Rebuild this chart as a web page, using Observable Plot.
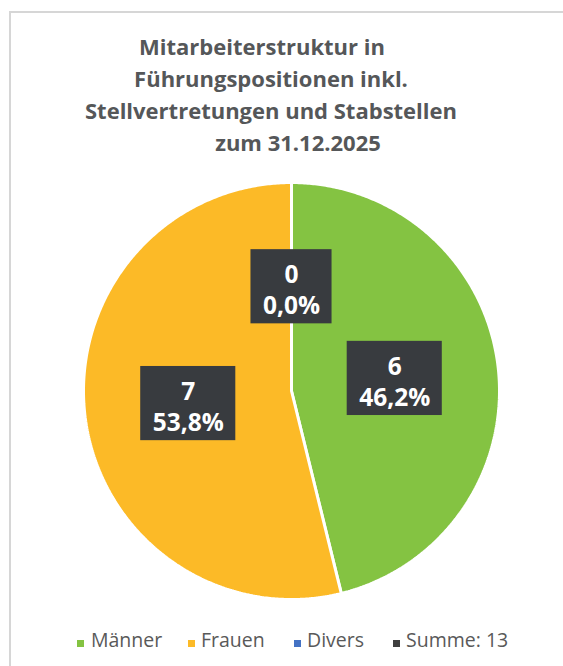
<!DOCTYPE html>
<html>
<head>
<meta charset="utf-8">
<script src="https://cdn.jsdelivr.net/npm/d3@7"></script>
<script src="https://cdn.jsdelivr.net/npm/@observablehq/plot@0.6"></script>
<style>
  html, body { margin: 0; padding: 0; background: #fff; }
  body { width: 563px; height: 666px; position: relative; overflow: hidden; font-family: "Open Sans", sans-serif; }
  #frame { position: absolute; left: 9px; top: 11px; width: 700px; height: 800px; border-top: 2px solid #d6d6d6; border-left: 2px solid #d6d6d6; }
  .tl { position: absolute; white-space: nowrap; font-weight: 700; font-size: 22px; color: #555759; transform: translateX(-50%); line-height: 1; }
  #chart { position: absolute; left: 0; top: 160px; }
  .lg { position: absolute; top: 630px; white-space: nowrap; font-size: 19.5px; color: #595959; line-height: 1; }
  .sw { position: absolute; width: 7px; height: 7px; top: 640px; }
</style>
</head>
<body>
<div id="frame"></div>
<div id="title"></div>
<div id="chart"></div>
<div id="legend"></div>
<script>
const titleLines = ["Mitarbeiterstruktur in", "Führungspositionen inkl.", "Stellvertretungen und Stabstellen", "zum 31.12.2025"];
const titleCenters = [262, 271, 271, 298];
const categories = ["Männer", "Frauen", "Divers"];
const values = [6, 7, 0];
const colors = ["#84C342", "#FCBA27", "#4472C4"];
const legendLabels = ["Männer", "Frauen", "Divers", "Summe: 13"];
const legendColors = ["#84C342", "#FCBA27", "#4472C4", "#3F3F3F"];

// title
const tEl = document.getElementById("title");
titleLines.forEach((t, i) => {
  const d = document.createElement("div");
  d.className = "tl";
  d.textContent = t;
  d.style.left = titleCenters[i] + "px";
  d.style.top = (35 + i * 32) + "px";
  tEl.appendChild(d);
});

// legend
const lEl = document.getElementById("legend");
const swX = [77, 188, 294, 393];
const txX = [91, 201, 307, 406];
legendLabels.forEach((t, i) => {
  const s = document.createElement("div");
  s.className = "sw"; s.style.left = swX[i] + "px"; s.style.background = legendColors[i];
  lEl.appendChild(s);
  const d = document.createElement("div");
  d.className = "lg"; d.style.left = txX[i] + "px"; d.textContent = t;
  lEl.appendChild(d);
});

// pie geometry
const total = d3.sum(values);
const arcs = d3.pie().sort(null).value(d => d)(values);
const slicePts = [];
arcs.forEach((a, i) => {
  if (a.endAngle - a.startAngle <= 0) return;
  slicePts.push({cat: categories[i], x: 0, y: 0});
  const n = Math.max(2, Math.ceil((a.endAngle - a.startAngle) / (Math.PI / 360)));
  for (let k = 0; k <= n; k++) {
    const ang = a.startAngle + (a.endAngle - a.startAngle) * k / n;
    slicePts.push({cat: categories[i], x: Math.sin(ang), y: Math.cos(ang)});
  }
});

const fmt = v => (v * 100).toFixed(1).replace(".", ",") + "%";
const labels = arcs.map((a, i) => {
  const mid = (a.startAngle + a.endAngle) / 2;
  return {cat: categories[i], x: 0.5 * Math.sin(mid), y: 0.5 * Math.cos(mid),
          text: values[i] + "\n" + fmt(values[i] / total), pct: fmt(values[i] / total)};
});

// box sizes from text measurement
const W = 563, H = 460;
const mL = 83, mR = 563 - 499, mT = 22, mB = H - (599 - 160);
const pxPerUnit = (W - mL - mR) / 2;
const cv = document.createElement("canvas").getContext("2d");
cv.font = "bold 24.5px 'Open Sans'";
const boxes = labels.map(l => {
  const w = Math.max(cv.measureText(l.pct).width, cv.measureText(String(l.text.split("\n")[0])).width) + 24;
  const h = 74;
  return {x1: l.x - w / 2 / pxPerUnit, x2: l.x + w / 2 / pxPerUnit,
          y1: l.y - h / 2 / pxPerUnit, y2: l.y + h / 2 / pxPerUnit};
});

const plot = Plot.plot({
  width: W, height: H,
  marginLeft: mL, marginRight: mR, marginTop: mT, marginBottom: mB,
  x: {domain: [-1, 1], axis: null},
  y: {domain: [-1, 1], axis: null},
  color: {domain: categories, range: colors},
  style: {background: "transparent", fontFamily: "Open Sans"},
  marks: [
    Plot.line(slicePts, {x: "x", y: "y", z: "cat", fill: "cat", stroke: "#fff", strokeWidth: 3, curve: "linear-closed", strokeLinejoin: "miter"}),
    Plot.rect(boxes, {x1: "x1", x2: "x2", y1: "y1", y2: "y2", fill: "#383B3F"}),
    Plot.text(labels, {x: "x", y: "y", text: "text", fill: "#fff", fontSize: 24.5, fontWeight: 700, lineHeight: 1.28, dy: 2})
  ]
});
document.getElementById("chart").appendChild(plot);
</script>
</body>
</html>
